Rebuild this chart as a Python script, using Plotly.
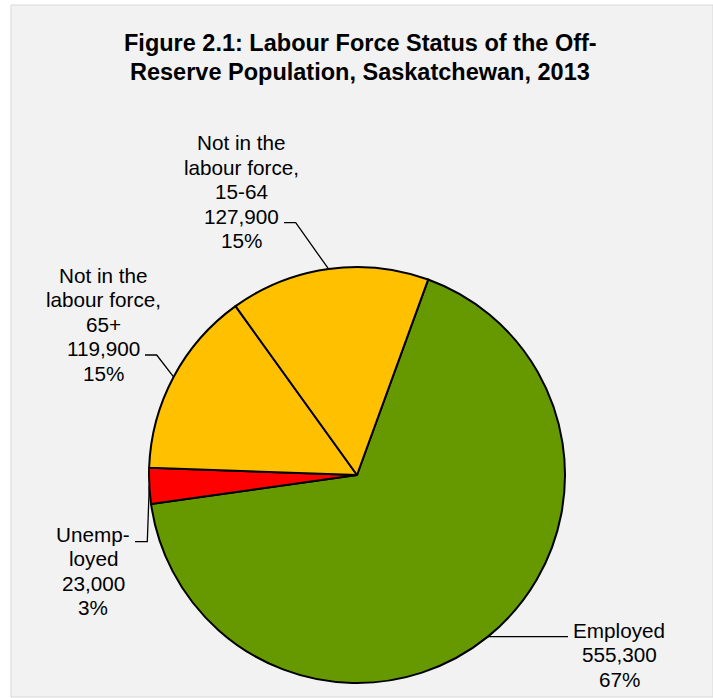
import math
import plotly.graph_objects as go

# ---- data ----
categories = ["Employed", "Unemployed", "Not in the labour force, 65+", "Not in the labour force, 15-64"]
values = [555300, 23000, 119900, 127900]
label_lines = [["Employed"], ["Unemp-", "loyed"], ["Not in the", "labour force,", "65+"],
               ["Not in the", "labour force,", "15-64"]]
colors = ["#669900", "#FF0000", "#FFC000", "#FFC000"]
title_lines = ["Figure 2.1: Labour Force Status of the Off-", "Reserve Population, Saskatchewan, 2013"]

# ---- layout geometry (pixels) ----
W, H = 713, 698
CX, CY, R = 357, 475, 208
ROT = 20
FONT = "Liberation Sans, Arial, sans-serif"
LBL_SIZE = 20.7
LBL_STEP = 24.5
# per slice: text centre x, first-line centre y, leader points (text side first)
label_pos = [
    dict(x=619, y=630, pts=[(568, None)]),
    dict(x=93, y=534, pts=[(135, 541.7), (147.3, 541.7)]),
    dict(x=103, y=275, pts=[(145, 355), (156.7, 355)]),
    dict(x=241, y=142.7, pts=[(284, 222.7), (295.7, 222.7)]),
]


def px(x):
    return x / W


def py(y):
    return 1 - y / H


total = sum(values)

fig = go.Figure()
fig.add_trace(go.Pie(
    values=values, labels=categories, sort=False, direction="clockwise",
    rotation=ROT, textinfo="none", showlegend=False,
    marker=dict(colors=colors, line=dict(color="black", width=2)),
    domain=dict(x=[px(CX - R), px(CX + R)], y=[py(CY + R), py(CY - R)]),
))

shapes = [dict(type="rect", xref="paper", yref="paper", x0=px(11), x1=1, y0=py(697), y1=py(5),
               fillcolor="#f2f2f2", line=dict(color="#d9d9d9", width=1), layer="below")]
annotations = []

for i, t in enumerate(title_lines):
    annotations.append(dict(text=f"<b>{t}</b>", x=px(360), y=py(43 + i * 29), xref="paper", yref="paper",
                            xanchor="center", yanchor="middle", showarrow=False,
                            font=dict(family=FONT, size=23.5, color="black")))

cum = 0
for i, v in enumerate(values):
    mid = ROT + (cum + v / 2) / total * 360
    cum += v
    ex = CX + R * math.sin(math.radians(mid))
    ey = CY - R * math.cos(math.radians(mid))
    lp = label_pos[i]
    pts = [(x, ey if y is None else y) for x, y in lp["pts"]] + [(ex, ey)]
    path = "M " + " L ".join(f"{px(x)},{py(y)}" for x, y in pts)
    shapes.append(dict(type="path", xref="paper", yref="paper", path=path,
                       line=dict(color="black", width=1.3)))
    lines = label_lines[i] + [f"{v:,}", f"{round(v / total * 100)}%"]
    for j, line in enumerate(lines):
        annotations.append(dict(text=line, x=px(lp["x"]), y=py(lp["y"] + j * LBL_STEP),
                                xref="paper", yref="paper", xanchor="center", yanchor="middle",
                                showarrow=False, font=dict(family=FONT, size=LBL_SIZE, color="black")))

fig.update_layout(width=W, height=H, margin=dict(l=0, r=0, t=0, b=0),
                  paper_bgcolor="white", plot_bgcolor="white",
                  shapes=shapes, annotations=annotations)

fig.write_html("out.html")
